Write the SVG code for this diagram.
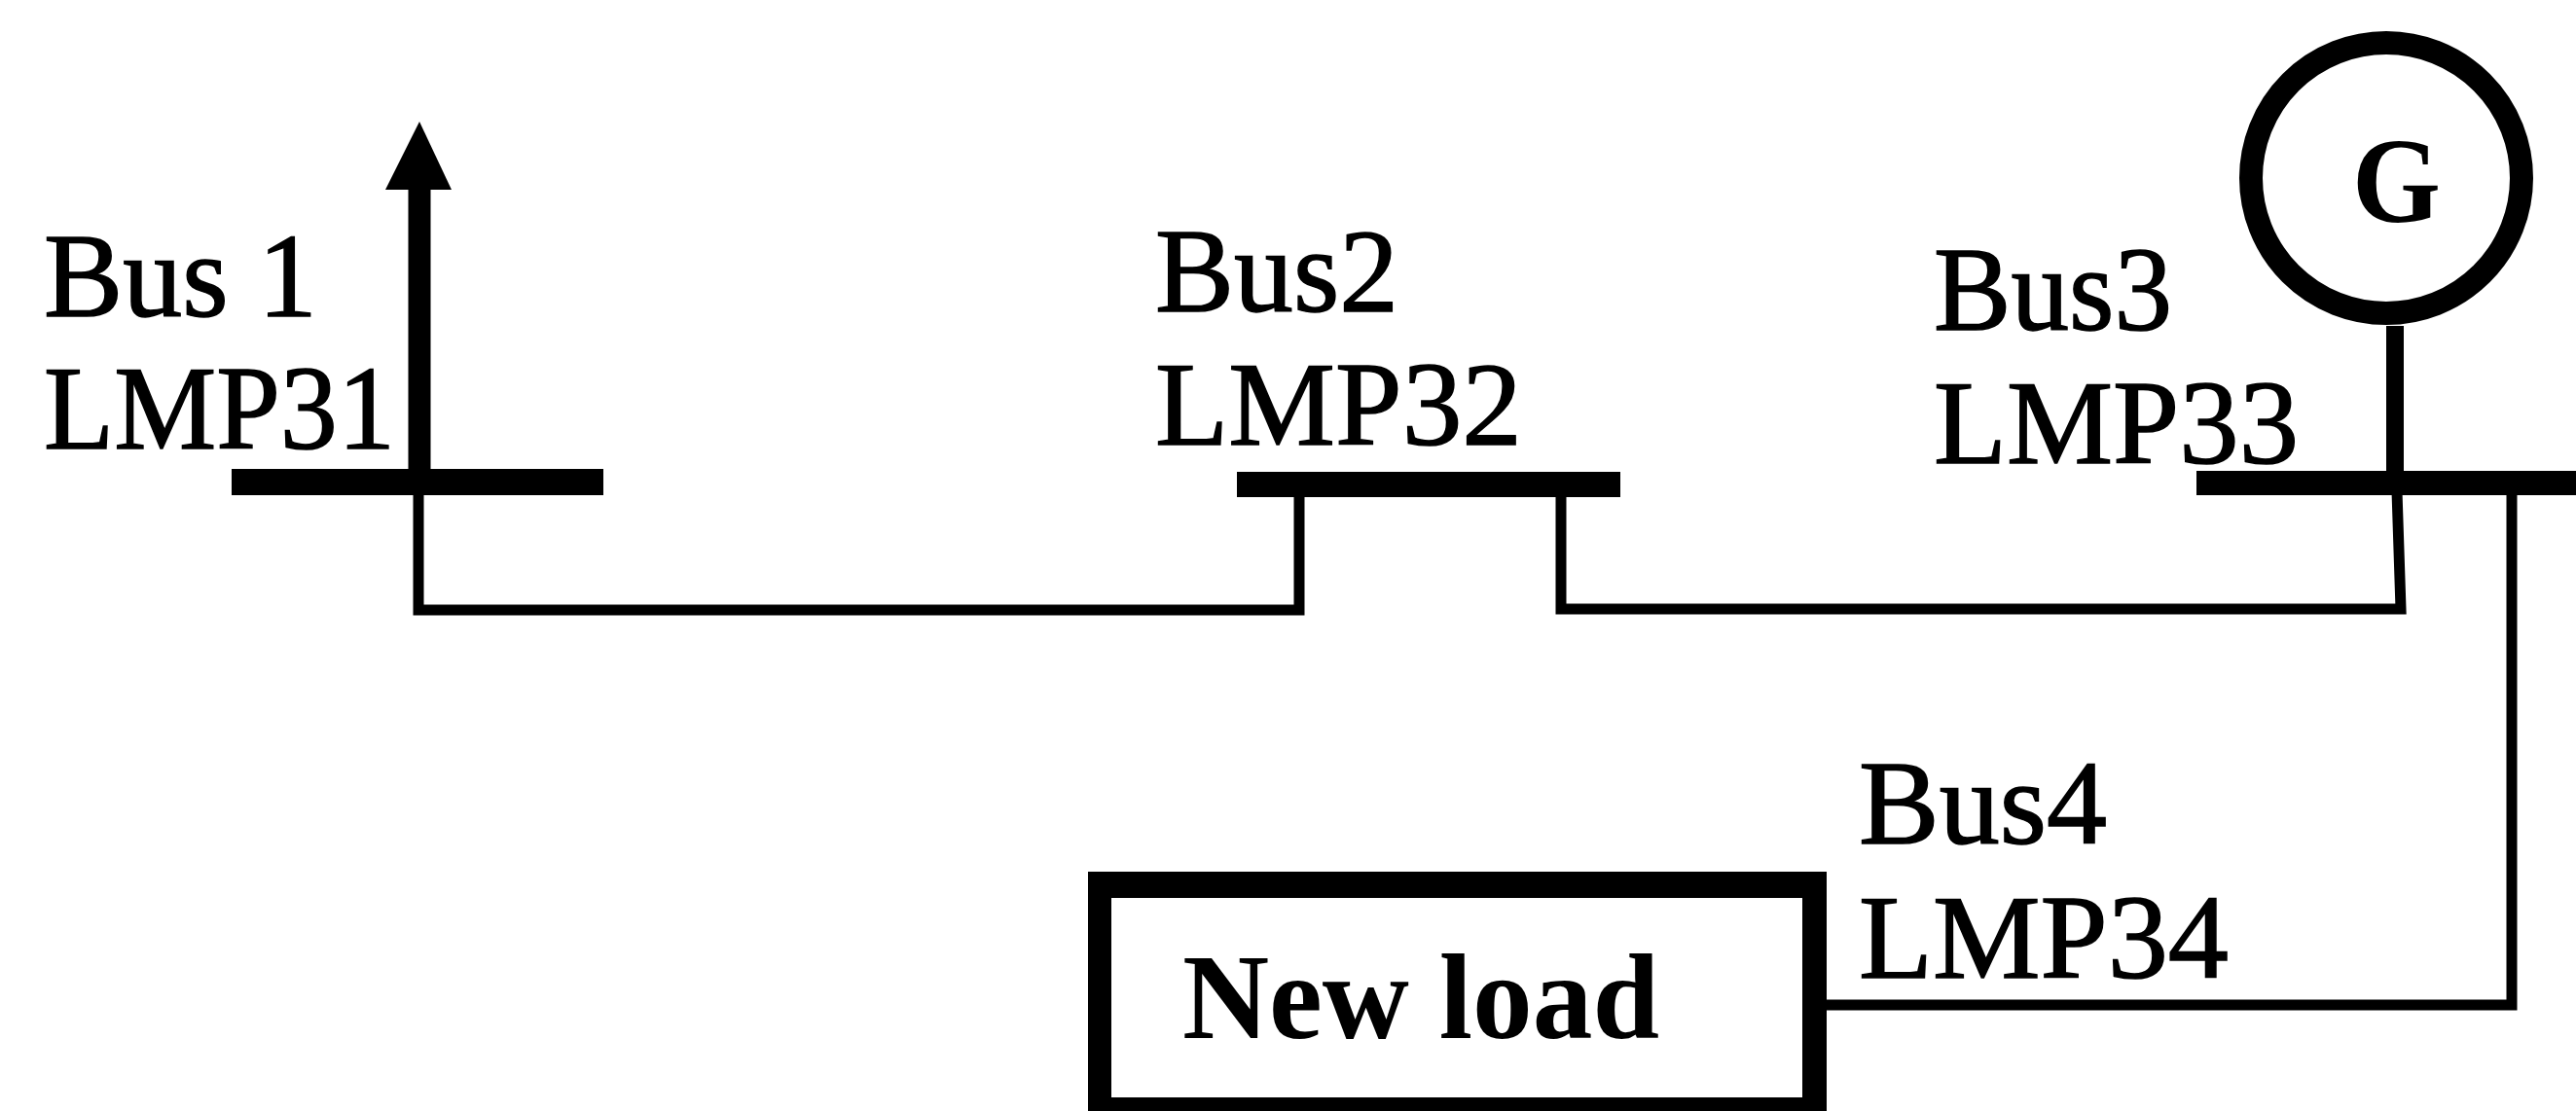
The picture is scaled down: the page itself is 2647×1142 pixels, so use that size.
<svg xmlns="http://www.w3.org/2000/svg" width="2647" height="1142" viewBox="0 0 2647 1142">
<style>
.t{font-family:"Liberation Serif","Times New Roman",serif;font-size:122px;fill:#000;stroke:#000;stroke-width:1.5px}
.b{font-weight:bold;font-size:125px;stroke:none}
.bar{fill:#000}
.w{fill:none;stroke:#000;stroke-width:11}
</style>
<rect width="2647" height="1142" fill="#fff"/>
<g id="connectors">
<path class="w" d="M430 505V627H1335V505"/>
<path class="w" d="M1604 505V626H2467L2463 505"/>
<path class="w" d="M2581 505V1033H1875"/>
<path d="M2461 335V490" fill="none" stroke="#000" stroke-width="18"/>
<path d="M431 190V490" fill="none" stroke="#000" stroke-width="23"/>
<polygon points="431,125 464,195 396,195" fill="#000"/>
</g>
<g id="bus1">
<rect class="bar" x="238" y="482" width="382" height="27"/>
<text class="t" x="45" y="325" textLength="281" lengthAdjust="spacingAndGlyphs">Bus 1</text>
<text class="t" x="45" y="461" textLength="361" lengthAdjust="spacingAndGlyphs">LMP31</text>
</g>
<g id="bus2">
<rect class="bar" x="1271" y="485" width="394" height="26"/>
<text class="t" x="1187" y="320" textLength="250" lengthAdjust="spacingAndGlyphs">Bus2</text>
<text class="t" x="1187" y="457" textLength="377" lengthAdjust="spacingAndGlyphs">LMP32</text>
</g>
<g id="bus3">
<rect class="bar" x="2257" y="484" width="390" height="25"/>
<text class="t" x="1987" y="339" textLength="245" lengthAdjust="spacingAndGlyphs">Bus3</text>
<text class="t" x="1987" y="476" textLength="375" lengthAdjust="spacingAndGlyphs">LMP33</text>
</g>
<g id="generator">
<circle cx="2452" cy="183" r="139" fill="none" stroke="#000" stroke-width="24"/>
<text class="t b" x="2417" y="228" textLength="91" lengthAdjust="spacingAndGlyphs">G</text>
</g>
<g id="bus4">
<text class="t" x="1910" y="867" textLength="255" lengthAdjust="spacingAndGlyphs">Bus4</text>
<text class="t" x="1910" y="1005" textLength="380" lengthAdjust="spacingAndGlyphs">LMP34</text>
</g>
<g id="new-load">
<path d="M1118 896H1877V1142H1118Z M1142 923V1128H1852V923Z" fill="#000" fill-rule="evenodd"/>
<text class="t b" x="1215" y="1067" textLength="490" lengthAdjust="spacingAndGlyphs">New load</text>
</g>
</svg>
